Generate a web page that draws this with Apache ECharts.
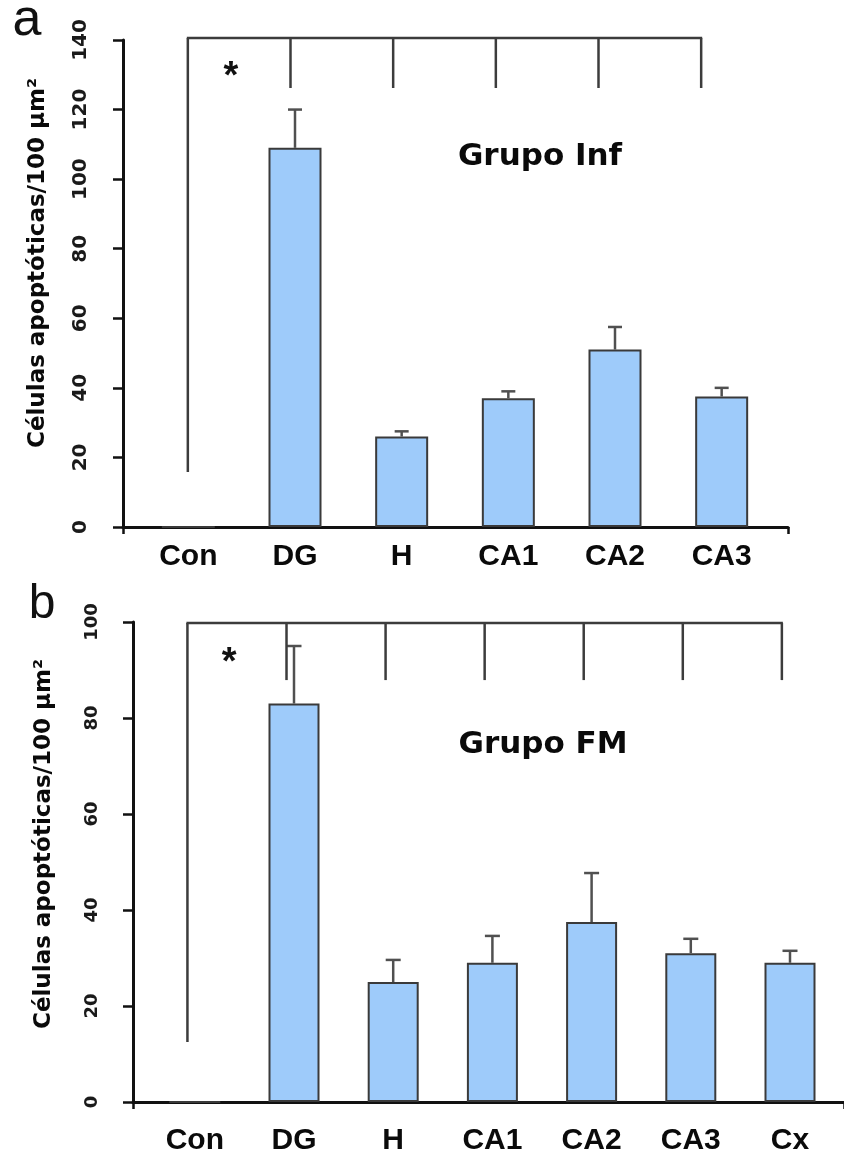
<!DOCTYPE html>
<html>
<head>
<meta charset="utf-8">
<script src="https://cdn.jsdelivr.net/npm/echarts@6/dist/echarts.min.js"></script>
<style>
html,body{margin:0;padding:0;background:#fff;}
#chart{width:844px;height:1162px;}
</style>
</head>
<body>
<div id="chart"></div>
<script>
// ---- Panel a (Grupo Inf) ----
const topCategories = ['Con', 'DG', 'H', 'CA1', 'CA2', 'CA3'];
const topMeans = [0, 109, 26, 37, 51, 37.5];
const topUpper = [null, 120, 27.5, 39, 57.5, 40];
const topYTicks = [0, 20, 40, 60, 80, 100, 120, 140];
const topBracketLevels = [140.6, 126.2];   // horizontal line, end of drops
const topConDrop = 15.8;
const topStarLevel = 131.5;

// ---- Panel b (Grupo FM) ----
const bottomCategories = ['Con', 'DG', 'H', 'CA1', 'CA2', 'CA3', 'Cx'];
const bottomMeans = [0, 83, 25, 29, 37.5, 31, 29];
const bottomUpper = [null, 95, 29.6, 34.6, 47.7, 34, 31.5];
const bottomYTicks = [0, 20, 40, 60, 80, 100];
const bottomBracketLevels = [99.8, 87.9];
const bottomConDrop = 12.5;
const bottomStarLevel = 93.1;

const BAR_FILL = '#9ECBFA';
const BAR_BORDER = '#3a3a3a';
const AXIS_COLOR = '#111';
const LINE_COLOR = '#3c3c3c';

function errorData(means, upper) {
  const out = [];
  upper.forEach((u, i) => { if (u != null) out.push([i, means[i], u]); });
  return out;
}
function bracketData(cats, levels, conDrop) {
  return cats.map((c, i) => [i, levels[0], i === 0 ? conDrop : levels[1]]);
}

function errorRender(capW) {
  return function (params, api) {
    const i = api.value(0), m = api.value(1), u = api.value(2);
    const p0 = api.coord([i, m]);
    const p1 = api.coord([i, u]);
    const st = { stroke: '#505050', lineWidth: 2.5 };
    return {
      type: 'group',
      children: [
        { type: 'line', shape: { x1: p0[0], y1: p0[1], x2: p1[0], y2: p1[1] }, style: st },
        { type: 'line', shape: { x1: p1[0] - capW / 2, y1: p1[1], x2: p1[0] + capW / 2, y2: p1[1] }, style: st }
      ]
    };
  };
}

function bracketRender(n, starLevel) {
  return function (params, api) {
    const i = api.value(0), top = api.value(1), end = api.value(2);
    const pT = api.coord([i, top]);
    const pE = api.coord([i, end]);
    const st = { stroke: LINE_COLOR, lineWidth: 2.5 };
    const children = [
      { type: 'line', shape: { x1: pT[0], y1: pT[1], x2: pE[0], y2: pE[1] }, style: st }
    ];
    if (i === 0) {
      const pLast = api.coord([n - 1, top]);
      children.push({ type: 'line', shape: { x1: pT[0] - 1, y1: pT[1], x2: pLast[0] + 1, y2: pT[1] }, style: st });
      const a = api.coord([0, starLevel]);
      const b = api.coord([1, starLevel]);
      children.push({
        type: 'text',
        style: {
          x: a[0] + (b[0] - a[0]) * 0.42, y: a[1] + 8,
          text: '*', fill: '#111',
          font: 'bold 38px "Liberation Sans", Arial, sans-serif',
          textAlign: 'center', textVerticalAlign: 'middle'
        }
      });
    }
    return { type: 'group', children: children };
  };
}

function frameX(grid) {
  return {
    type: 'value', gridIndex: grid, min: 0, max: 1, interval: 1,
    axisLine: { show: true, onZero: false, lineStyle: { color: AXIS_COLOR, width: 3 } },
    axisTick: { show: true, length: 7, lineStyle: { color: AXIS_COLOR, width: 2.5 } },
    axisLabel: { show: false }, splitLine: { show: false }
  };
}
function frameY(grid, max, margin, fontSize) {
  return {
    type: 'value', gridIndex: grid, min: 0, max: max, interval: 20,
    axisLine: { show: true, lineStyle: { color: AXIS_COLOR, width: 3 } },
    axisTick: { show: true, length: 10, lineStyle: { color: AXIS_COLOR, width: 2.5 } },
    axisLabel: {
      rotate: 90, margin: margin, color: '#1a1a1a',
      fontFamily: 'DejaVu Sans', fontWeight: 'bold', fontSize: fontSize
    },
    splitLine: { show: false }
  };
}
function hiddenY(grid, max) {
  return { type: 'value', gridIndex: grid, min: 0, max: max, show: false, splitLine: { show: false } };
}
function barX(grid, cats, margin) {
  return {
    type: 'category', gridIndex: grid, data: cats,
    axisLine: { show: false }, axisTick: { show: false },
    axisLabel: {
      margin: margin, color: '#0a0a0a', fontFamily: 'Liberation Sans',
      fontWeight: 'bold', fontSize: 30, interval: 0
    }
  };
}
function hiddenX(grid, cats) {
  return { type: 'category', gridIndex: grid, data: cats, show: false };
}

const topMax = topYTicks[topYTicks.length - 1];
const bottomMax = bottomYTicks[bottomYTicks.length - 1];

const chart = echarts.init(document.getElementById('chart'), null, { renderer: 'canvas' });
chart.setOption({
  animation: false,
  backgroundColor: '#ffffff',
  grid: [
    { left: 123, top: 40, width: 665, height: 487 },
    { left: 135, top: 40, width: 640, height: 487 },
    { left: 136.5, top: 40, width: 616, height: 487 },
    { left: 133, top: 622, width: 720, height: 480 },
    { left: 145.2, top: 622, width: 694.4, height: 480 },
    { left: 137.9, top: 622, width: 693.5, height: 480 }
  ],
  xAxis: [
    frameX(0), barX(1, topCategories, 15), hiddenX(2, topCategories),
    frameX(3), barX(4, bottomCategories, 24), hiddenX(5, bottomCategories)
  ],
  yAxis: [
    frameY(0, topMax, 32, 20), hiddenY(1, topMax), hiddenY(2, topMax),
    frameY(3, bottomMax, 32, 18), hiddenY(4, bottomMax), hiddenY(5, bottomMax)
  ],
  series: [
    {
      type: 'bar', xAxisIndex: 1, yAxisIndex: 1, data: topMeans, barWidth: 53,
      itemStyle: { color: BAR_FILL, borderColor: BAR_BORDER, borderWidth: 2 }, z: 2
    },
    {
      type: 'custom', xAxisIndex: 1, yAxisIndex: 1, data: errorData(topMeans, topUpper),
      renderItem: errorRender(14), z: 3, clip: false
    },
    {
      type: 'custom', xAxisIndex: 2, yAxisIndex: 2,
      data: bracketData(topCategories, topBracketLevels, topConDrop),
      renderItem: bracketRender(topCategories.length, topStarLevel), z: 3, clip: false
    },
    {
      type: 'bar', xAxisIndex: 4, yAxisIndex: 4, data: bottomMeans, barWidth: 51,
      itemStyle: { color: BAR_FILL, borderColor: BAR_BORDER, borderWidth: 2 }, z: 2
    },
    {
      type: 'custom', xAxisIndex: 4, yAxisIndex: 4, data: errorData(bottomMeans, bottomUpper),
      renderItem: errorRender(15), z: 3, clip: false
    },
    {
      type: 'custom', xAxisIndex: 5, yAxisIndex: 5,
      data: bracketData(bottomCategories, bottomBracketLevels, bottomConDrop),
      renderItem: bracketRender(bottomCategories.length, bottomStarLevel), z: 3, clip: false
    }
  ],
  graphic: [
    { type: 'text', x: 27, y: 21, style: { text: 'a', fill: '#111', font: '52px "Liberation Sans", Arial, sans-serif', textAlign: 'center', textVerticalAlign: 'middle' } },
    { type: 'text', x: 42, y: 605, style: { text: 'b', fill: '#111', font: '48px "Liberation Sans", Arial, sans-serif', textAlign: 'center', textVerticalAlign: 'middle' } },
    { type: 'text', x: 540, y: 157, style: { text: 'Grupo Inf', fill: '#0a0a0a', font: 'bold 31px "DejaVu Sans", sans-serif', textAlign: 'center', textVerticalAlign: 'middle' } },
    { type: 'text', x: 543, y: 745, style: { text: 'Grupo FM', fill: '#0a0a0a', font: 'bold 31px "DejaVu Sans", sans-serif', textAlign: 'center', textVerticalAlign: 'middle' } },
    { type: 'text', x: 38, y: 263, rotation: Math.PI / 2, style: { text: 'Células apoptóticas/100 µm²', fill: '#0a0a0a', font: 'bold 23px "DejaVu Sans", sans-serif', textAlign: 'center', textVerticalAlign: 'middle' } },
    { type: 'text', x: 44, y: 844, rotation: Math.PI / 2, style: { text: 'Células apoptóticas/100 µm²', fill: '#0a0a0a', font: 'bold 23px "DejaVu Sans", sans-serif', textAlign: 'center', textVerticalAlign: 'middle' } }
  ]
});
</script>
</body>
</html>
